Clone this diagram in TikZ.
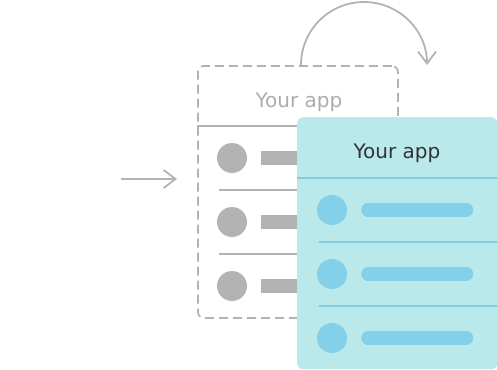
\documentclass[tikz,border=0pt]{standalone}
\usepackage{fontspec}
\newfontfamily\appfont{DejaVu Sans}
\usetikzlibrary{arrows.meta}
\definecolor{grayc}{RGB}{179,179,179}
\definecolor{graytext}{RGB}{172,172,172}
\definecolor{tealfill}{RGB}{186,233,236}
\definecolor{bluec}{RGB}{130,208,234}
\definecolor{blueline}{RGB}{127,204,232}
\definecolor{darktext}{RGB}{51,51,51}
\begin{document}
\begin{tikzpicture}[x=1pt,y=-1pt,
  arrowline/.style={draw=grayc, line width=1.8pt, -{Straight Barb[length=12pt,width=18pt,line width=1.8pt]}},
  oldbox/.style={draw=grayc, line width=1.8pt, dash pattern=on 9pt off 5pt, rounded corners=6pt, minimum width=200pt, minimum height=252pt, inner sep=0pt, anchor=north west},
  newbox/.style={fill=tealfill, rounded corners=6pt, minimum width=200pt, minimum height=252pt, inner sep=0pt, anchor=north west},
  titletext/.style={anchor=base, font=\appfont\fontsize{20}{24}\selectfont, inner sep=0pt},
  grayline/.style={draw=grayc, line width=1.8pt},
  blueln/.style={draw=blueline, line width=1.8pt},
  graydot/.style={circle, fill=grayc, minimum size=30pt, inner sep=0pt},
  bluedot/.style={circle, fill=bluec, minimum size=30pt, inner sep=0pt},
  graybar/.style={fill=grayc, minimum width=112pt, minimum height=14pt, inner sep=0pt, anchor=west},
  bluebar/.style={fill=bluec, rounded corners=7pt, minimum width=112pt, minimum height=14pt, inner sep=0pt, anchor=west}]
\useasboundingbox (0,0) rectangle (497,369);

% old (dashed) screen
\node[oldbox] (old) at (197,65) {};
\node[titletext, text=graytext] (oldtitle) at (299,107) {Your app};
\draw[grayline] (197,126) -- (397,126);
\draw[grayline] (219,190) -- (397,190);
\draw[grayline] (219,254) -- (397,254);
\node[graydot] (oc1) at (232,158) {};
\node[graydot] (oc2) at (232,222) {};
\node[graydot] (oc3) at (232,286) {};
\node[graybar] (ob1) at (261,158) {};
\node[graybar] (ob2) at (261,222) {};
\node[graybar] (ob3) at (261,286) {};

% new (teal) screen
\node[newbox] (new) at (297,117) {};
\node[titletext, text=darktext] (newtitle) at (397,158) {Your app};
\draw[blueln] (297,178) -- (497,178);
\draw[blueln] (319,242) -- (497,242);
\draw[blueln] (319,306) -- (497,306);
\node[bluedot] (nc1) at (332,210) {};
\node[bluedot] (nc2) at (332,274) {};
\node[bluedot] (nc3) at (332,338) {};
\node[bluebar] (nb1) at (361,210) {};
\node[bluebar] (nb2) at (361,274) {};
\node[bluebar] (nb3) at (361,338) {};

% arrows
\coordinate (la) at (121,179);
\coordinate (lb) at (177,179);
\draw[arrowline] (la) -- (lb);
\coordinate (cs) at (301,65);
\draw[arrowline] (cs) arc[start angle=180, end angle=360, radius=63];
\end{tikzpicture}
\end{document}
